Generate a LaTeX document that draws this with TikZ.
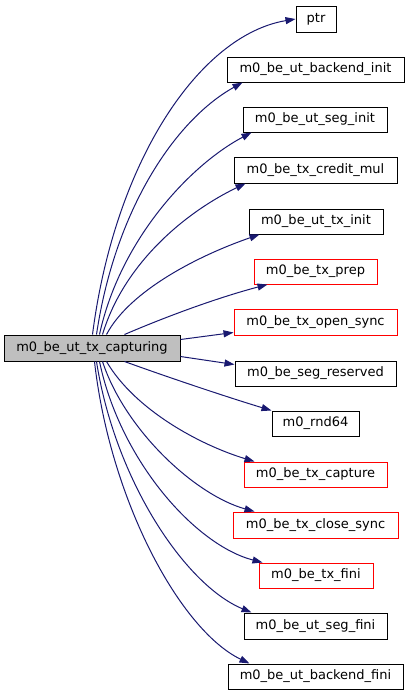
\documentclass[tikz,border=0pt]{standalone}
\usepackage{fontspec}
\setmainfont{DejaVu Sans}
\usetikzlibrary{arrows.meta}
\definecolor{edgeblue}{HTML}{191970}
\definecolor{mainfill}{HTML}{BFBFBF}
\definecolor{redline}{HTML}{FF0000}
\tikzset{
  fn/.style={draw=black, line width=1pt, inner sep=0pt, minimum height=25pt, font=\fontsize{13pt}{15pt}\selectfont, text=black},
  fnred/.style={fn, draw=redline},
  mainfn/.style={fn, fill=mainfill, minimum height=26pt},
  call/.style={draw=edgeblue, line width=1pt, -{Triangle[length=10pt,width=7pt]}, fill=none}
}
\begin{document}
\begin{tikzpicture}[x=1pt,y=-1pt]
\useasboundingbox (0,0) rectangle (409,696);
\node[mainfn, minimum width=176pt] (main) at (92,348) {m0\_be\_ut\_tx\_capturing};
\node[fn, minimum width=40pt, minimum height=26pt] (ptr) at (316,19) {ptr};
\node[fn, minimum width=177pt] (bi) at (315.5,69.5) {m0\_be\_ut\_backend\_init};
\node[fn, minimum width=144pt] (si) at (315,119.5) {m0\_be\_ut\_seg\_init};
\node[fn, minimum width=163pt, minimum height=26pt] (cm) at (315.5,170) {m0\_be\_tx\_credit\_mul};
\node[fn, minimum width=134pt] (ti) at (316,221.5) {m0\_be\_ut\_tx\_init};
\node[fnred, minimum width=123pt] (tp) at (315.5,271.5) {m0\_be\_tx\_prep};
\node[fnred, minimum width=163pt, minimum height=26pt] (os) at (315.5,322) {m0\_be\_tx\_open\_sync};
\node[fn, minimum width=161pt] (sr) at (315.5,373.5) {m0\_be\_seg\_reserved};
\node[fn, minimum width=87pt] (rn) at (315.5,423.5) {m0\_rnd64};
\node[fnred, minimum width=143pt] (cap) at (315.5,474.5) {m0\_be\_tx\_capture};
\node[fnred, minimum width=165pt, minimum height=26pt] (cs) at (315.5,525) {m0\_be\_tx\_close\_sync};
\node[fnred, minimum width=114pt] (tf) at (316,575.5) {m0\_be\_tx\_fini};
\node[fn, minimum width=143pt, minimum height=26pt] (sf) at (315.5,626) {m0\_be\_ut\_seg\_fini};
\node[fn, minimum width=175pt] (bf) at (315.5,676.5) {m0\_be\_ut\_backend\_fini};

\draw[call] ([xshift=89pt]main.north west) .. controls (115,160) and (200,35) .. (ptr.west);
\draw[call] ([xshift=93pt]main.north west) .. controls (115,210) and (175,120) .. ([xshift=16pt]bi.south west);
\draw[call] ([xshift=96pt]main.north west) .. controls (120,240) and (190,165) .. ([xshift=9pt]si.south west);
\draw[call] ([xshift=99pt]main.north west) .. controls (125,260) and (190,210) .. ([xshift=12pt]cm.south west);
\draw[call] ([xshift=103pt]main.north west) .. controls (130,290) and (200,255) .. ([xshift=11pt]ti.south west);
\draw[call] ([xshift=121pt]main.north west) .. controls (170,315) and (220,297) .. ([xshift=14pt]tp.south west);
\draw[call] ([yshift=-5pt]main.north east) -- ([yshift=3pt]os.south west);
\draw[call] ([yshift=5pt]main.south east) -- ([yshift=-4pt]sr.north west);
\draw[call] ([xshift=121pt]main.south west) .. controls (170,378) and (230,398) .. (rn.north west);
\draw[call] ([xshift=103pt]main.south west) .. controls (135,410) and (200,445) .. ([xshift=11pt]cap.north west);
\draw[call] ([xshift=99pt]main.south west) .. controls (125,430) and (195,495) .. ([xshift=22pt]cs.north west);
\draw[call] ([xshift=96pt]main.south west) .. controls (120,460) and (195,545) .. ([xshift=4pt]tf.north west);
\draw[call] ([xshift=93pt]main.south west) .. controls (115,480) and (185,585) .. ([xshift=8pt]sf.north west);
\draw[call] ([xshift=91pt]main.south west) .. controls (110,500) and (180,630) .. ([xshift=22pt]bf.north west);
\end{tikzpicture}
\end{document}
